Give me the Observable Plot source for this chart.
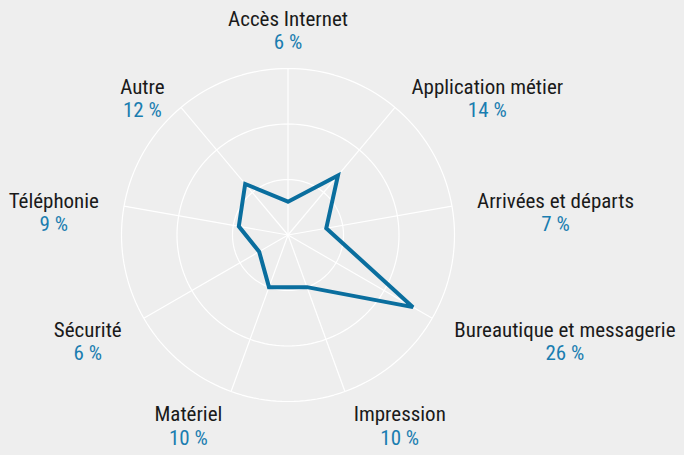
<!DOCTYPE html>
<html>
<head>
<meta charset="utf-8">
<script src="https://cdn.jsdelivr.net/npm/d3@7"></script>
<script src="https://cdn.jsdelivr.net/npm/@observablehq/plot@0.6"></script>
<style>
  html, body { margin: 0; padding: 0; background: #eeeeee; }
  #chart { width: 684px; height: 455px; }
</style>
</head>
<body>
<div id="chart"></div>
<script>
// ---- data ----
const categories = ["Accès Internet", "Application métier", "Arrivées et départs", "Bureautique et messagerie", "Impression", "Matériel", "Sécurité", "Téléphonie", "Autre"];
const values = [6, 14, 7, 26, 10, 10, 6, 9, 12];
const valueLabels = ["6 %", "14 %", "7 %", "26 %", "10 %", "10 %", "6 %", "9 %", "12 %"];
const ringTicks = [10, 20, 30];

// ---- layout ----
const W = 684, H = 455;
const cx = 287.5, cy = 234.5;   // centre in pixels
const maxValue = 30;
const outerR = 166.5;           // pixels
const k = outerR / maxValue;    // pixels per percent
const labelRx = 192, labelRy = 192, labelDy = 6, lineGap = 23.4;
const FONT = '"Roboto Condensed", "Liberation Sans Narrow", "DejaVu Sans Condensed", sans-serif';
const fontSize = 21;

const n = categories.length;
const angle = i => (i * 2 * Math.PI) / n;

// polygon points (closed)
const pts = values.map((v, i) => ({cat: categories[i], x: v * Math.sin(angle(i)), y: v * Math.cos(angle(i))}));
const poly = [...pts, pts[0]];

// rings
const rings = ringTicks.flatMap(t => d3.range(0, 361, 2).map(a => ({ring: t, x: t * Math.sin(a * Math.PI / 180), y: t * Math.cos(a * Math.PI / 180)})));
// spokes
const spokes = categories.map((c, i) => ({x1: 0, y1: 0, x2: maxValue * Math.sin(angle(i)), y2: maxValue * Math.cos(angle(i))}));

// labels: measure text widths to centre value under the name
const ctx = document.createElement("canvas").getContext("2d");
ctx.font = `${fontSize}px ${FONT}`;
const labels = categories.map((c, i) => {
  const s = Math.sin(angle(i)), co = Math.cos(angle(i));
  const w = ctx.measureText(c).width;
  let px = cx + labelRx * s;
  if (s > 0.05) px += w / 2; else if (s < -0.05) px -= w / 2;
  let py = cy - labelRy * co + labelDy;
  if (co > 0.95) py -= lineGap;   // top label sits above its anchor
  return {name: c, value: valueLabels[i], x: (px - cx) / k, yName: (cy - py) / k, yValue: (cy - py - lineGap) / k};
});

const chart = Plot.plot({
  width: W,
  height: H,
  margin: 0,
  style: {background: "#eeeeee", fontFamily: FONT},
  x: {domain: [-cx / k, (W - cx) / k], axis: null},
  y: {domain: [-(H - cy) / k, cy / k], axis: null},
  marks: [
    Plot.line(rings, {x: "x", y: "y", z: "ring", stroke: "#ffffff", strokeWidth: 1.2}),
    Plot.link(spokes, {x1: "x1", y1: "y1", x2: "x2", y2: "y2", stroke: "#ffffff", strokeWidth: 1.2}),
    Plot.line(poly, {x: "x", y: "y", stroke: "#0a6e9e", strokeWidth: 4, strokeLinejoin: "miter", strokeMiterlimit: 3}),
    Plot.text(labels, {x: "x", y: "yName", text: "name", textAnchor: "middle", lineAnchor: "bottom", fontSize: fontSize, fill: "#1a1a1a"}),
    Plot.text(labels, {x: "x", y: "yValue", text: "value", textAnchor: "middle", lineAnchor: "bottom", fontSize: fontSize, fill: "#1a7db0"})
  ]
});
document.getElementById("chart").appendChild(chart);
</script>
</body>
</html>
